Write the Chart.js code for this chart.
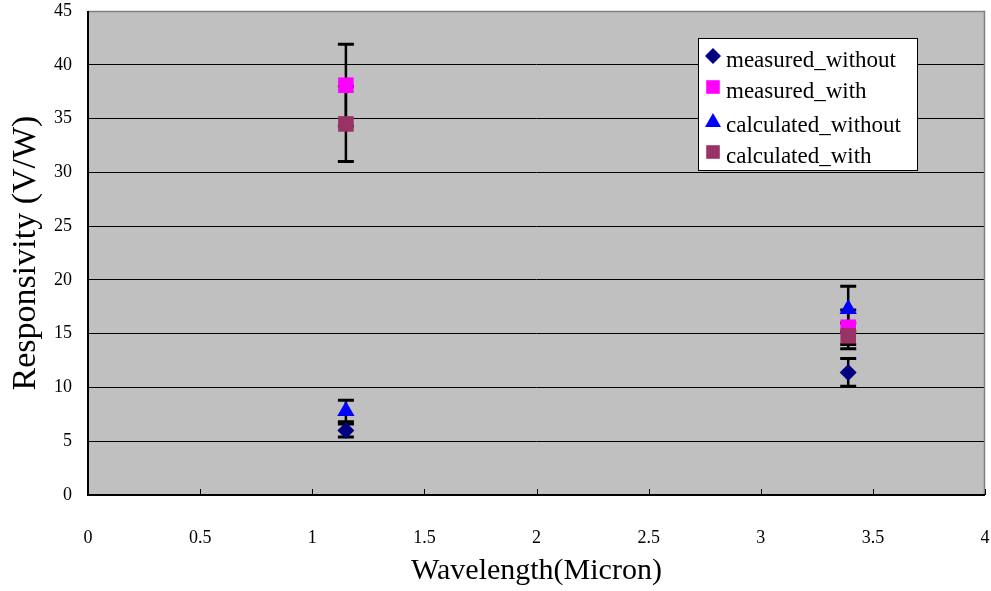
<!DOCTYPE html>
<html>
<head>
<meta charset="utf-8">
<script src="https://cdn.jsdelivr.net/npm/chart.js@4.4.0/dist/chart.umd.min.js"></script>
<style>
  html, body { margin: 0; padding: 0; background: #fff; }
  #espaco { width: 991px; height: 591px; }
</style>
</head>
<body>
<div id="espaco"><canvas id="grafico" width="991" height="591"></canvas></div>
<script>
// comprimentos de onda (micron)
const wavelengths = [1.15, 3.39];

// valores (V/W) e barras de erro (+/-)
const measuredWithout = [6.0, 11.4];
const measuredWithoutErr = [0.6, 1.3];
const measuredWith = [38.1, 15.6];
const measuredWithErr = [3.8, 1.6];
const calculatedWithout = [7.8, 17.3];
const calculatedWithoutErr = [1.0, 2.1];
const calculatedWith = [34.5, 14.8];
const calculatedWithErr = [3.5, 1.2];

const seriesNames = ['measured_without', 'measured_with', 'calculated_without', 'calculated_with'];

const serif = "'Liberation Serif', 'Times New Roman', serif";

function pontos(valores) {
  return valores.map((v, i) => ({ x: wavelengths[i], y: v }));
}

// desenha um marcador simples (legenda)
function marcador(ctx, estilo, x, y, r, cor) {
  ctx.fillStyle = cor;
  ctx.beginPath();
  if (estilo === 'rectRot') {
    ctx.moveTo(x, y - r); ctx.lineTo(x + r, y); ctx.lineTo(x, y + r); ctx.lineTo(x - r, y);
  } else if (estilo === 'triangle') {
    ctx.moveTo(x, y - r); ctx.lineTo(x + r, y + r * 0.75); ctx.lineTo(x - r, y + r * 0.75);
  } else {
    ctx.rect(x - r * 0.8, y - r * 0.8, r * 1.6, r * 1.6);
  }
  ctx.closePath();
  ctx.fill();
}

// tira o espaco extra que o Chart.js reserva para os rotulos das pontas
function semSobra(s) {
  s.paddingLeft = 0; s.paddingRight = 0; s.paddingTop = 0; s.paddingBottom = 0;
}

const fundoEBordas = {
  id: 'fundoEBordas',
  beforeDraw(chart) {
    const { ctx, chartArea: a } = chart;
    ctx.save();
    ctx.fillStyle = '#C0C0C0';
    ctx.fillRect(a.left, a.top, a.right - a.left, a.bottom - a.top);
    ctx.restore();
  },
  afterDraw(chart) {
    const { ctx, chartArea: a } = chart;
    const xs = chart.scales.x;
    ctx.save();
    // bordas cinza (topo e direita)
    ctx.strokeStyle = '#808080';
    ctx.lineWidth = 1.5;
    ctx.beginPath();
    ctx.moveTo(a.left, a.top + 0.5); ctx.lineTo(a.right - 0.5, a.top + 0.5); ctx.lineTo(a.right - 0.5, a.bottom);
    ctx.stroke();
    // eixos
    ctx.strokeStyle = '#000';
    ctx.lineWidth = 2;
    ctx.beginPath();
    ctx.moveTo(a.left, a.top); ctx.lineTo(a.left, a.bottom); ctx.lineTo(a.right, a.bottom);
    ctx.stroke();
    // marcas internas no eixo x
    ctx.lineWidth = 1;
    xs.ticks.forEach(t => {
      const px = Math.round(xs.getPixelForValue(t.value)) + 0.5;
      ctx.beginPath();
      ctx.moveTo(px, a.bottom); ctx.lineTo(px, a.bottom - 6);
      ctx.stroke();
    });

    // legenda
    const bx = 698, by = 38, bw = 219, bh = 132;
    ctx.fillStyle = '#fff';
    ctx.fillRect(bx, by, bw, bh);
    ctx.strokeStyle = '#000';
    ctx.lineWidth = 1;
    ctx.strokeRect(bx + 0.5, by + 0.5, bw, bh);
    const linhas = [60, 91, 125, 156];
    ctx.font = '23px ' + serif;
    ctx.textBaseline = 'middle';
    chart.data.datasets.forEach((ds, i) => {
      const y = linhas[i];
      marcador(ctx, ds.pointStyle, 713, y - 4, ds.pointStyle === 'rect' ? 8.5 : 8, ds.backgroundColor);
      ctx.fillStyle = '#000';
      ctx.fillText(ds.label, 726, y + 1);
    });
    ctx.restore();
  }
};

const barrasDeErro = {
  id: 'barrasDeErro',
  beforeDatasetsDraw(chart) {
    const { ctx } = chart;
    const xs = chart.scales.x, ys = chart.scales.y;
    ctx.save();
    ctx.strokeStyle = '#000';
    chart.data.datasets.forEach(ds => {
      ds.data.forEach((p, i) => {
        const e = ds.erros[i];
        const px = xs.getPixelForValue(p.x);
        const topo = ys.getPixelForValue(p.y + e);
        const base = ys.getPixelForValue(p.y - e);
        ctx.lineWidth = 2.5;
        ctx.beginPath();
        ctx.moveTo(px, topo); ctx.lineTo(px, base);
        ctx.stroke();
        ctx.lineWidth = 3;
        ctx.beginPath();
        ctx.moveTo(px - 8, topo); ctx.lineTo(px + 8, topo);
        ctx.moveTo(px - 8, base); ctx.lineTo(px + 8, base);
        ctx.stroke();
      });
    });
    ctx.restore();
  }
};

const datasets = [
  { label: seriesNames[0], data: pontos(measuredWithout), erros: measuredWithoutErr,
    pointStyle: 'rectRot', pointRadius: 8.5, backgroundColor: '#000080', order: 4 },
  { label: seriesNames[1], data: pontos(measuredWith), erros: measuredWithErr,
    pointStyle: 'rect', pointRadius: 11, backgroundColor: '#FF00FF', order: 3 },
  { label: seriesNames[2], data: pontos(calculatedWithout), erros: calculatedWithoutErr,
    pointStyle: 'triangle', pointRadius: 10, backgroundColor: '#0000FF', order: 2 },
  { label: seriesNames[3], data: pontos(calculatedWith), erros: calculatedWithErr,
    pointStyle: 'rect', pointRadius: 11, backgroundColor: '#993366', order: 1 }
].map(ds => Object.assign(ds, { borderWidth: 0, borderColor: ds.backgroundColor, showLine: false, pointHoverRadius: ds.pointRadius }));

new Chart(document.getElementById('grafico'), {
  type: 'scatter',
  data: { datasets: datasets },
  options: {
    responsive: false,
    animation: false,
    layout: { autoPadding: false, padding: { top: 11, right: 6, left: 0, bottom: 0 } },
    plugins: { legend: { display: false }, tooltip: { enabled: false } },
    scales: {
      x: {
        type: 'linear', min: 0, max: 4,
        afterFit: s => { s.height = 96; semSobra(s); },
        border: { display: false },
        grid: { display: false },
        ticks: { stepSize: 0.5, color: '#000', padding: 24, maxRotation: 0,
                 callback: v => String(v),
                 font: { family: serif, size: 18 } },
        title: { display: true, text: 'Wavelength(Micron)', color: '#000',
                 padding: { top: 0, bottom: 2 }, font: { family: serif, size: 30 } }
      },
      y: {
        type: 'linear', min: 0, max: 45,
        afterFit: s => { s.width = 88; semSobra(s); },
        border: { display: false },
        grid: {
          drawTicks: false,
          lineWidth: 1,
          color: c => (c.tick && (c.tick.value === 0 || c.tick.value === 45)) ? 'rgba(0,0,0,0)' : '#000'
        },
        ticks: { stepSize: 5, color: '#000', padding: 16, callback: v => String(v),
                 font: { family: serif, size: 18 } },
        title: { display: true, text: 'Responsivity (V/W)', color: '#000',
                 padding: { top: 6, bottom: 0 }, font: { family: serif, size: 34 } }
      }
    }
  },
  plugins: [fundoEBordas, barrasDeErro]
});
</script>
</body>
</html>
